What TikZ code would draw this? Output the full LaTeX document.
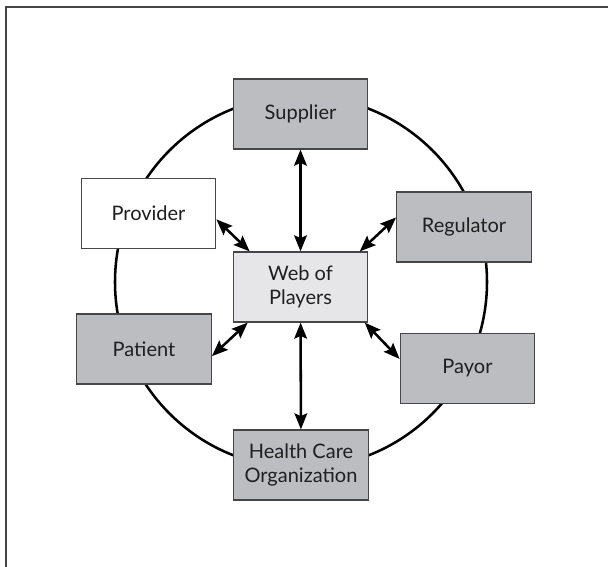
\documentclass[tikz,border=0pt]{standalone}
\usepackage{fontspec}
\setmainfont{Lato}
\usetikzlibrary{arrows.meta}
\usetikzlibrary{positioning}

\definecolor{boxgray}{RGB}{188,189,193}
\definecolor{webgray}{RGB}{230,230,232}
\definecolor{linegray}{RGB}{70,70,70}

\begin{document}
\begin{tikzpicture}[x=0.75pt,y=-0.75pt,>={Stealth[length=12pt,width=9.5pt,inset=2pt]},
	player node/.style={rectangle,draw=linegray,line width=0.9pt,fill=boxgray,
	minimum width=101pt,minimum height=52.5pt,align=center,inner sep=2pt,
	font=\fontsize{15}{17.5}\selectfont,text=black!88},
	web node/.style={player node,fill=webgray}]
	
	\useasboundingbox (0,0) rectangle (608,567);
	\draw[linegray,line width=1.6pt] (6,567) -- (6,7) -- (608,7);
	\draw[line width=1.9pt] (301,282) circle[radius=139.5pt];
	
	\node[web node] (web) at (300.5,287) {Web of\\Players};
	\node[player node] (sup) at (300.5,114) {Supplier};
	\node[player node,fill=white] (prov) at (148.5,213.5) {Provider};
	\node[player node] (reg) at (464,227) {Regulator};
	\node[player node] (pat) at (144,349) {Patient};
	\node[player node] (pay) at (467.5,368.5) {Payor};
	\node[player node] (hco) at (301,465) {Health Care\\Organization};
	
	\path[<->,line width=1.9pt]
	(sup) edge (web)
	(prov.-5) edge (web.145)
	(reg.172) edge (web.31)
	(pat.-6) edge (web.214)
	(pay.172) edge (web.-29)
	(hco) edge (web);
\end{tikzpicture}
\end{document}
